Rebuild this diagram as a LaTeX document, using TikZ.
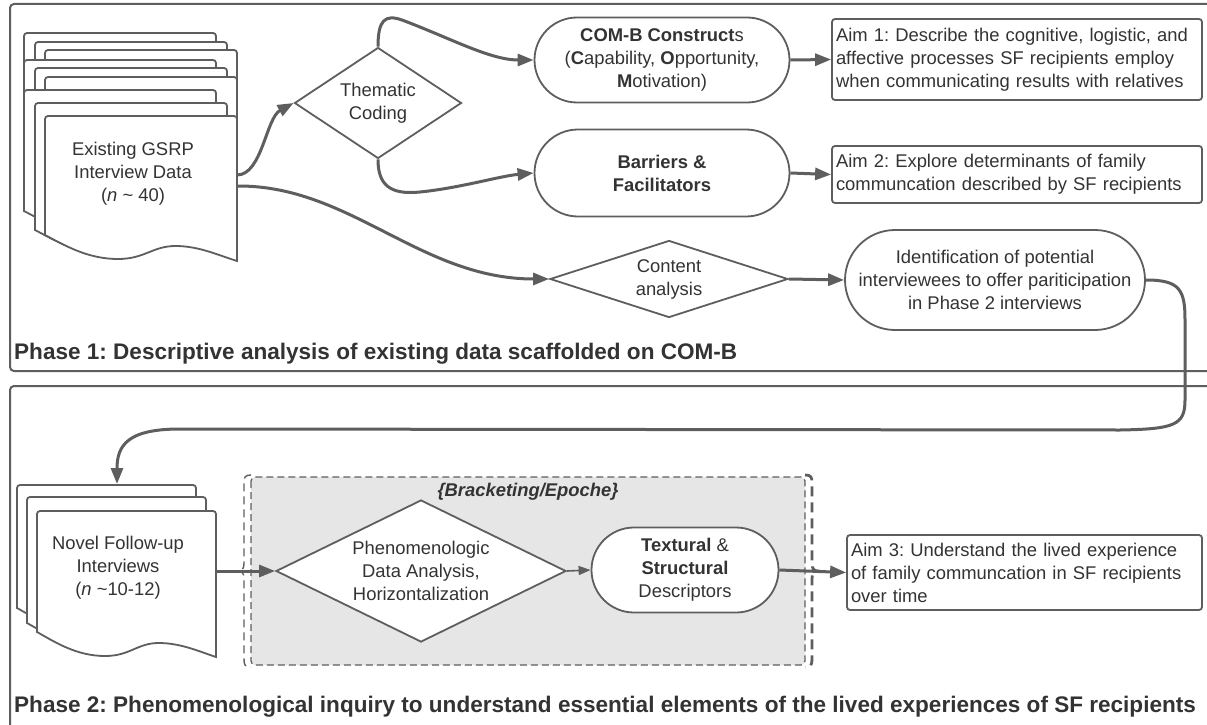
\documentclass[tikz,border=0pt]{standalone}
\usepackage{fontspec}
\setmainfont{Liberation Sans}
\usetikzlibrary{shapes.geometric,shapes.misc,arrows.meta}
\definecolor{ln}{HTML}{5E5E5E}
\definecolor{tx}{HTML}{333333}
\definecolor{grp}{HTML}{E6E6E6}
\frenchspacing
\newcommand{\docpg}[5]{%
 \filldraw[docshape] ({#1},{#2+#4}) [rounded corners=3pt] -- ({#1},{#2}) -- ({#1+#3},{#2}) [sharp corners] -- ({#1+#3},{#2+#4+#5})
 .. controls ({#1+0.9*#3},{#2+#4+#5-6}) and ({#1+0.8*#3},{#2+#4+11}) .. ({#1+0.68*#3},{#2+#4+11})
 .. controls ({#1+0.56*#3},{#2+#4+11}) and ({#1+0.52*#3},{#2+#4+24}) .. ({#1+0.38*#3},{#2+#4+24})
 .. controls ({#1+0.22*#3},{#2+#4+24}) and ({#1+0.1*#3},{#2+#4+10}) .. ({#1},{#2+#4}) -- cycle;}
\begin{document}
\begin{tikzpicture}[x=1pt,y=-1pt,
  docshape/.style={draw=ln,fill=white,line width=1.8pt},
  txt/.style={font=\fontsize{18.4}{23}\selectfont,text=tx,align=center,inner sep=0pt},
  stad/.style={rounded rectangle,draw=ln,fill=white,line width=1.8pt,font=\fontsize{18.4}{23}\selectfont,text=tx,align=center,inner sep=0pt},
  dia/.style={diamond,draw=ln,fill=white,line width=1.8pt,font=\fontsize{18.4}{23}\selectfont,text=tx,align=center,inner sep=0pt},
  aim/.style={rectangle,rounded corners=3pt,draw=ln,fill=white,line width=1.8pt,font=\fontsize{18.4}{23}\selectfont,text=tx,align=left,inner xsep=4pt,inner ysep=0pt},
  conn/.style={draw=ln,line width=3pt,-{Triangle[length=16pt,width=12pt]}},
  thin/.style={draw=ln,line width=1.6pt,-{Triangle[length=12pt,width=9pt]}},
  phase/.style={draw=ln,line width=2pt,rounded corners=4pt},
  plabel/.style={font=\fontsize{22.55}{26}\selectfont\bfseries,text=tx,anchor=west,inner sep=0pt}]
\useasboundingbox (0,0) rectangle (1207,725);
\clip (0,0) rectangle (1207,725);
\fill[white] (0,0) rectangle (1207,725);
% phase frames
\draw[phase] (10,4) rectangle (1230,371);
\draw[phase] (10,386) rectangle (1230,745);
\node[plabel] (p1) at (14,354) {Phase 1: Descriptive analysis of existing data scaffolded on COM-B};
\node[plabel] (p2) at (14,707) {Phase 2: Phenomenological inquiry to understand essential elements of the lived experiences of SF recipients};
% stack 1
\docpg{24}{33}{192}{121}{26}
\docpg{35}{42}{192}{121}{26}
\docpg{45}{50}{192}{121}{26}
\docpg{24}{60}{192}{121}{26}
\docpg{35}{68}{192}{121}{26}
\docpg{45}{77}{192}{121}{26}
\docpg{24}{90}{192}{121}{26}
\docpg{35}{103}{192}{127}{26}
\docpg{45}{116}{192}{119}{26}
\node[txt] (exist) at (133,174) {Existing GSRP\\Interview Data\\(\textit{n} \textasciitilde{} 40)};
\coordinate (exA) at (237,175);
\coordinate (exB) at (237,186);
% phase 1 shapes
\node[dia,aspect=1.5,minimum width=167,minimum height=111] (them) at (378,103) {Thematic\\Coding};
\node[stad,minimum width=255,minimum height=85] (comb) at (662,60) {\textbf{COM-B Construct}s\\(\textbf{C}apability, \textbf{O}pportunity,\\\textbf{M}otivation)};
\node[stad,minimum width=255,minimum height=87] (barr) at (662,173) {\textbf{Barriers \&}\\\textbf{Facilitators}};
\node[aim,text width=362,minimum height=81] (aim1) at (1017,59.5) {Aim 1: Describe the cognitive, logistic, and\\affective processes SF recipients employ\\when communicating results with relatives};
\node[aim,text width=362,minimum height=57] (aim2) at (1017,174.5) {Aim 2: Explore determinants of family\\communcation described by SF recipients};
\node[dia,aspect=3.1,minimum width=238,minimum height=77] (cont) at (669,279) {Content\\analysis};
\node[stad,minimum width=300,minimum height=100] (ident) at (995,280) {Identification of potential\\interviewees to offer pariticipation\\in Phase 2 interviews};
% phase 1 connectors
\draw[conn] (exA) .. controls (262,175) and (266,118) .. (them.west);
\draw[conn] (exB) .. controls (350,185) and (420,279) .. (cont.west);
\draw[conn] (them.north) .. controls (378,20) and (385,14) .. (402,20) .. controls (450,38) and (490,60) .. (comb.west);
\draw[conn] (them.south) .. controls (378,185) and (390,195) .. (420,192) .. controls (460,188) and (500,176) .. (barr.west);
\draw[conn] (comb.east) -- (aim1.west);
\draw[conn] (barr.east) -- (aim2.west);
\draw[conn] (cont.east) -- (ident.west);
% phase 2: group container
\filldraw[draw=ln,fill=grp,line width=1.3pt,dash pattern=on 7pt off 4pt,rounded corners=4pt] (251,477) rectangle (805,665);
\draw[ln,line width=1.4pt,dash pattern=on 8pt off 5pt] (251,475) .. controls (245,475) and (244,477) .. (244,483) -- (244,563) .. controls (244,569) and (242,571) .. (238,571) .. controls (242,571) and (244,573) .. (244,579) -- (244,659) .. controls (244,665) and (245,667) .. (251,667);
\draw[ln,line width=2.8pt,dash pattern=on 10pt off 6pt] (805,475) .. controls (811,475) and (812,477) .. (812,483) -- (812,563) .. controls (812,569) and (814,571) .. (818,571) .. controls (814,571) and (812,573) .. (812,579) -- (812,659) .. controls (812,665) and (811,667) .. (805,667);
\node[txt,font=\fontsize{18.4}{23}\selectfont\bfseries\itshape] (brk) at (528,492) {\{Bracketing/Epoche\}};
% stack 2
\docpg{17}{485}{179}{123}{25}
\docpg{27}{497}{179}{126}{25}
\docpg{37}{511}{179}{121}{25}
\node[txt] (novel) at (118,568) {Novel Follow-up\\Interviews\\(\textit{n} \textasciitilde10-12)};
\coordinate (nvA) at (216,571);
\coordinate (nvTop) at (117,484);
\node[dia,aspect=2.05,minimum width=290,minimum height=142] (phen) at (421,571) {Phenomenologic\\Data Analysis,\\Horizontalization};
\node[stad,minimum width=187,minimum height=85] (textu) at (685,570) {\textbf{Textural} \&\\\textbf{Structural}\\Descriptors};
\node[aim,text width=347,minimum height=75] (aim3) at (1024.5,572.5) {Aim 3: Understand the lived experience\\of family communcation in SF recipients\\over time};
\draw[conn] (nvA) -- (phen.west);
\draw[thin] (phen.east) -- (textu.west);
\draw[conn] (textu.east) -- (aim3.west);
% loop connector
\draw[conn] (ident.east) .. controls (1180,280) and (1185,290) .. (1185,320) -- (1185,400) .. controls (1185,425) and (1175,429) .. (1120,430) -- (180,429) .. controls (128,429) and (117,445) .. (nvTop);
\end{tikzpicture}
\end{document}
